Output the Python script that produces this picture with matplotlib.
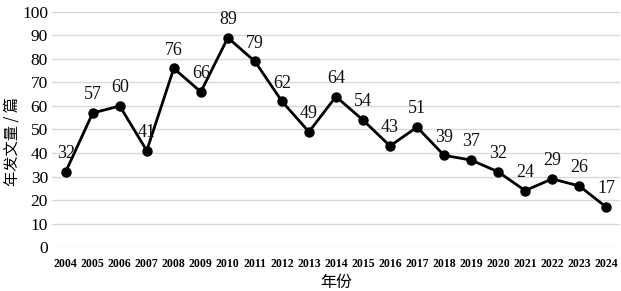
import matplotlib
matplotlib.use("Agg")
import matplotlib.pyplot as plt

years = list(range(2004, 2025))
counts = [32, 57, 60, 41, 76, 66, 89, 79, 62, 49, 64, 54, 43, 51, 39, 37, 32, 24, 29, 26, 17]
yticks = list(range(0, 101, 10))

plt.rcParams['font.family'] = ['Liberation Serif', 'Noto Sans CJK SC', 'DejaVu Sans']

fig = plt.figure(figsize=(6.21, 2.91), dpi=100)
ax = fig.add_axes([0.084, 0.151, 0.914, 0.808])

ax.plot(years, counts, color='black', linewidth=2.0, marker='o', markersize=6.5, zorder=3)
for x, y in zip(years, counts):
    ax.annotate(str(y), (x, y), xytext=(0, 7), textcoords='offset points',
                ha='center', va='bottom', fontsize=13, color='#111111')

ax.set_xlim(2003.5, 2024.5)
ax.set_ylim(0, 100)
ax.set_yticks(yticks)
ax.set_xticks(years)
ax.set_xticklabels([str(y) for y in years], fontsize=8.5, fontweight='bold')
ax.tick_params(axis='y', labelsize=12.5, length=0, pad=3)
ax.tick_params(axis='x', length=0, pad=8)
ax.grid(axis='y', color='#d9d9d9', linewidth=1.0, zorder=0)
ax.set_axisbelow(True)
for s in ax.spines.values():
    s.set_visible(False)

ax.set_ylabel('年发文量 / 篇', fontsize=11, family=['Noto Sans CJK SC', 'DejaVu Sans'])
ax.yaxis.set_label_coords(-0.055, 0.45)
ax.set_xlabel('年份', fontsize=11.5, family=['Noto Sans CJK SC', 'DejaVu Sans'], labelpad=3)

fig.savefig('out.png', dpi=100)
